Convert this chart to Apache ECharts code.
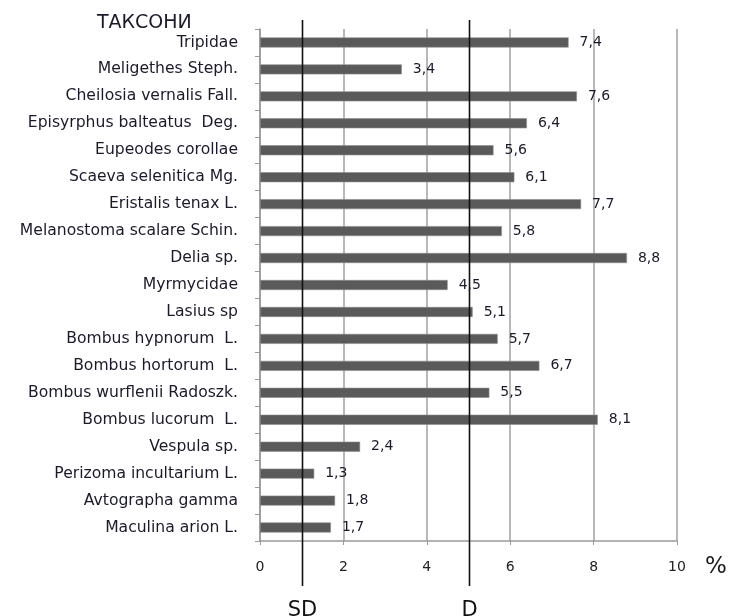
<!DOCTYPE html>
<html>
<head>
<meta charset="utf-8">
<script src="https://cdn.jsdelivr.net/npm/echarts@6/dist/echarts.min.js"></script>
<style>
  html, body { margin: 0; padding: 0; background: #fff; }
  #chart { width: 729px; height: 616px; }
</style>
</head>
<body>
<div id="chart"></div>
<script>
// Taxa, top to bottom
const taxa = [
  'Tripidae', 'Meligethes Steph.', 'Cheilosia vernalis Fall.', 'Episyrphus balteatus  Deg.',
  'Eupeodes corollae', 'Scaeva selenitica Mg.', 'Eristalis tenax L.', 'Melanostoma scalare Schin.',
  'Delia sp.', 'Myrmycidae', 'Lasius sp', 'Bombus hypnorum  L.', 'Bombus hortorum  L.',
  'Bombus wurflenii Radoszk.', 'Bombus lucorum  L.', 'Vespula sp.', 'Perizoma incultarium L.',
  'Avtographa gamma', 'Maculina arion L.'
];
// Share of each taxon, %
const shares = [7.4, 3.4, 7.6, 6.4, 5.6, 6.1, 7.7, 5.8, 8.8, 4.5, 5.1, 5.7, 6.7, 5.5, 8.1, 2.4, 1.3, 1.8, 1.7];
// Dominance thresholds, %
const thresholds = [{ name: 'SD', value: 1 }, { name: 'D', value: 5 }];
const xTicks = [0, 2, 4, 6, 8, 10];

const font = 'DejaVu Sans, sans-serif';
const chart = echarts.init(document.getElementById('chart'), null, { renderer: 'canvas' });

chart.setOption({
  animation: false,
  backgroundColor: '#ffffff',
  grid: { left: 260, right: 52, top: 29, bottom: 75, containLabel: false },
  xAxis: {
    type: 'value',
    min: xTicks[0],
    max: xTicks[xTicks.length - 1],
    interval: 2,
    axisLine: { show: true, lineStyle: { color: '#999999', width: 1.5 } },
    axisTick: { show: true, length: 4, lineStyle: { color: '#999999' } },
    axisLabel: { margin: 19, color: '#222222', fontSize: 14, fontFamily: font },
    splitLine: { show: true, lineStyle: { color: '#a0a0a0', width: 1.5 } }
  },
  yAxis: {
    type: 'category',
    data: taxa,
    inverse: true,
    axisLine: { show: true, lineStyle: { color: '#999999', width: 1.5 } },
    axisTick: { show: true, length: 5, lineStyle: { color: '#999999' } },
    axisLabel: { margin: 22, color: '#1a1a2a', fontSize: 15.6, fontFamily: font },
    splitLine: { show: false }
  },
  series: [{
    type: 'bar',
    data: shares,
    barWidth: 10,
    itemStyle: { color: '#5a5a5a', borderColor: '#8c8c8c', borderWidth: 0.6 },
    label: {
      show: true,
      position: 'right',
      distance: 11,
      color: '#1a1a2a',
      fontSize: 14,
      fontFamily: font,
      formatter: p => String(p.value).replace('.', ',')
    }
  }],
  graphic: [
    { type: 'text', left: 97, top: 14, style: { text: 'ТАКСОНИ', fontSize: 19, fontFamily: font, fill: '#1a1a2a' } },
    { type: 'text', left: 705, top: 556, style: { text: '%', fontSize: 23, fontFamily: font, fill: '#1a1a1a' } }
  ]
});

// Threshold lines and their names, placed through the x scale
const thresholdGraphics = [];
thresholds.forEach(t => {
  const x = Math.round(chart.convertToPixel({ xAxisIndex: 0 }, t.value)) + 0.5;
  thresholdGraphics.push({
    type: 'line', silent: true, z: 10,
    shape: { x1: x, y1: 20, x2: x, y2: 586 },
    style: { stroke: '#111111', lineWidth: 1.6 }
  });
  thresholdGraphics.push({
    type: 'text', z: 10, x: x, y: 600,
    style: { text: t.name, fontSize: 21, fontFamily: font, fill: '#111111', align: 'center', verticalAlign: 'top' }
  });
});
chart.setOption({ graphic: chart.getOption().graphic[0].elements.concat(thresholdGraphics) });
</script>
</body>
</html>
